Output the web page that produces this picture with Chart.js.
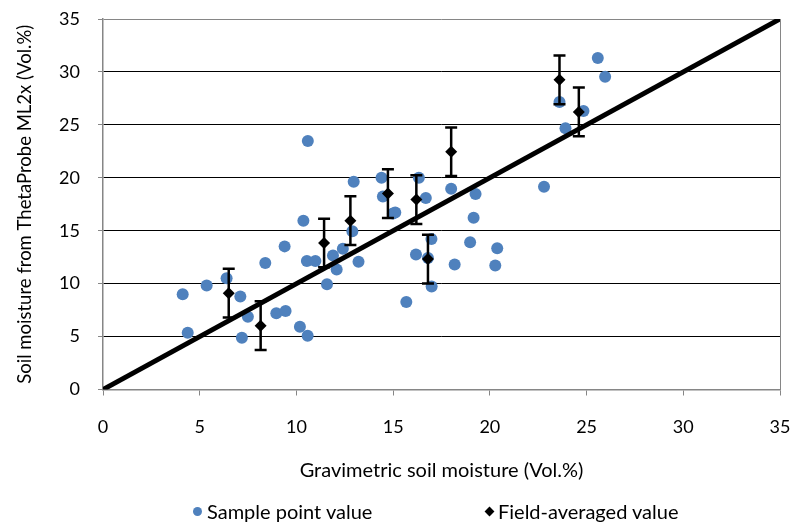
<!DOCTYPE html>
<html>
<head>
<meta charset="utf-8">
<script src="https://cdn.jsdelivr.net/npm/chart.js@4.4.1/dist/chart.umd.min.js"></script>
<style>
  body { margin: 0; background: #fff; }
  #wrap { position: relative; width: 791px; height: 522px; }
  #legend {
    position: absolute; left: 0; right: 0; top: 499px; height: 24px;
    font-family: Lato, sans-serif; font-size: 20px; line-height: 24px; color: #000;
  }
  #legend span.item { position: absolute; top: 0; display: flex; align-items: center; white-space: nowrap; }
  #legend i { display: inline-block; margin-right: 5px; }
  .dot { width: 9px; height: 9px; border-radius: 50%; background: #4f81bd; }
  .dia { width: 7px; height: 7px; background: #000; transform: rotate(45deg); margin-left: 1px; }
</style>
</head>
<body>
<div id="wrap">
  <canvas id="soilChart"></canvas>
  <div id="legend"></div>
</div>
<script>
Chart.defaults.font.family = "Lato, sans-serif";
Chart.defaults.color = '#000';

// sample points (gravimetric vs ThetaProbe)
const sampleX = [4.12, 4.38, 5.36, 6.39, 7.10, 7.18, 7.49, 8.39, 8.96, 9.44, 9.39, 10.18,
                 10.36, 10.59, 10.58, 10.54, 10.98, 11.58, 11.89, 12.08, 12.40, 12.89, 12.96, 13.21,
                 14.40, 14.47, 14.99, 15.11, 15.68, 16.18, 16.33, 16.69, 16.80, 16.98, 16.99, 18.00,
                 18.18, 18.98, 19.16, 19.26, 20.28, 20.38, 22.80, 23.60, 23.91, 24.84, 25.58, 25.96];
const sampleY = [9.00, 5.37, 9.82, 10.52, 8.78, 4.89, 6.88, 11.94, 7.20, 7.42, 13.52, 5.93,
                 15.95, 23.47, 5.08, 12.13, 12.13, 9.95, 12.66, 11.34, 13.30, 14.94, 19.62, 12.07,
                 20.00, 18.23, 16.62, 16.71, 8.27, 12.76, 20.00, 18.09, 12.42, 14.22, 9.73, 18.97,
                 11.80, 13.90, 16.22, 18.46, 11.72, 13.35, 19.15, 27.17, 24.67, 26.31, 31.31, 29.54];

// field averages with error (+/-)
const fieldX = [6.50, 8.15, 11.43, 12.79, 14.73, 16.20, 16.80, 18.00, 23.60, 24.60];
const fieldY = [9.10, 6.03, 13.84, 15.95, 18.51, 17.94, 12.32, 22.46, 29.25, 26.22];
const fieldErr = [2.3, 2.3, 2.3, 2.3, 2.3, 2.3, 2.3, 2.3, 2.3, 2.3];

// 1:1 line
const lineX = [0, 35];
const lineY = [0, 35];

const blue = '#4f81bd';
const axisGray = '#868686';

const toPoints = (xs, ys) => xs.map((x, i) => ({ x: x, y: ys[i] }));

// error bars for the field-averaged series, drawn under the diamonds
const errorBars = {
    id: 'errorBars',
    beforeDatasetDraw(chart, args) {
        if (args.index !== 1) return;
        const { ctx, scales: { x, y } } = chart;
        ctx.save();
        ctx.strokeStyle = '#000';
        ctx.lineWidth = 2.5;
        fieldX.forEach((fx, i) => {
            const px = x.getPixelForValue(fx);
            const top = y.getPixelForValue(fieldY[i] + fieldErr[i]);
            const bot = y.getPixelForValue(fieldY[i] - fieldErr[i]);
            ctx.beginPath();
            ctx.moveTo(px, top); ctx.lineTo(px, bot);
            ctx.moveTo(px - 6, top); ctx.lineTo(px + 6, top);
            ctx.moveTo(px - 6, bot); ctx.lineTo(px + 6, bot);
            ctx.stroke();
        });
        ctx.restore();
    }
};

const ctx = document.getElementById('soilChart').getContext('2d');

new Chart(ctx, {
    type: 'scatter',
    data: {
        datasets: [
            {
                label: 'Sample point value',
                data: toPoints(sampleX, sampleY),
                backgroundColor: blue,
                borderColor: blue,
                pointRadius: 6,
                borderWidth: 0,
                order: 3
            },
            {
                label: 'Field-averaged value',
                data: toPoints(fieldX, fieldY),
                pointStyle: 'rectRot',
                backgroundColor: '#000',
                borderColor: '#000',
                pointRadius: 6,
                borderWidth: 0,
                order: 1
            },
            {
                label: '',
                data: toPoints(lineX, lineY),
                showLine: true,
                borderColor: '#000',
                borderWidth: 5,
                pointRadius: 0,
                order: 2
            }
        ]
    },
    options: {
        responsive: true,
        maintainAspectRatio: false,
        animation: false,
        layout: { padding: { top: 19, right: 11, bottom: 39, left: 0 } },
        plugins: {
            legend: { display: false },
            tooltip: { enabled: false }
        },
        scales: {
            x: {
                type: 'linear',
                min: 0,
                max: 35,
                ticks: { stepSize: 5, font: { size: 18 }, padding: 0 },
                grid: {
                    color: c => c.tick.value === 35 ? axisGray : 'transparent',
                    tickColor: axisGray,
                    tickLength: 27,
                    tickBorderDash: [5, 100]   // only a short mark next to the axis
                },
                border: { color: axisGray, width: 1.5 },
                title: {
                    display: true,
                    text: 'Gravimetric soil moisture (Vol.%)',
                    font: { size: 20 },
                    padding: 0
                },
                afterFit: scale => { scale.height = 93.5; }
            },
            y: {
                min: 0,
                max: 35,
                ticks: { stepSize: 5, font: { size: 18 }, padding: 0 },
                grid: {
                    color: c => c.tick.value === 35 ? axisGray : '#000',
                    tickColor: axisGray,
                    tickLength: 23,
                    tickBorderDash: [0, 18, 5, 100]
                },
                border: { color: axisGray, width: 1.5 },
                title: {
                    display: true,
                    text: 'Soil moisture from ThetaProbe ML2x (Vol.%)',
                    font: { size: 18.5 },
                    padding: { top: 14, bottom: 0 }
                },
                afterFit: scale => { scale.width = 103; }
            }
        }
    },
    plugins: [errorBars]
});

// legend as html, one entry per named series
const legendBox = document.getElementById('legend');
[['Sample point value', 'dot', 193], ['Field-averaged value', 'dia', 485]].forEach(([text, cls, left]) => {
    const item = document.createElement('span');
    item.className = 'item';
    item.style.left = left + 'px';
    const mark = document.createElement('i');
    mark.className = cls;
    item.appendChild(mark);
    item.appendChild(document.createTextNode(text));
    legendBox.appendChild(item);
});
</script>
</body>
</html>
